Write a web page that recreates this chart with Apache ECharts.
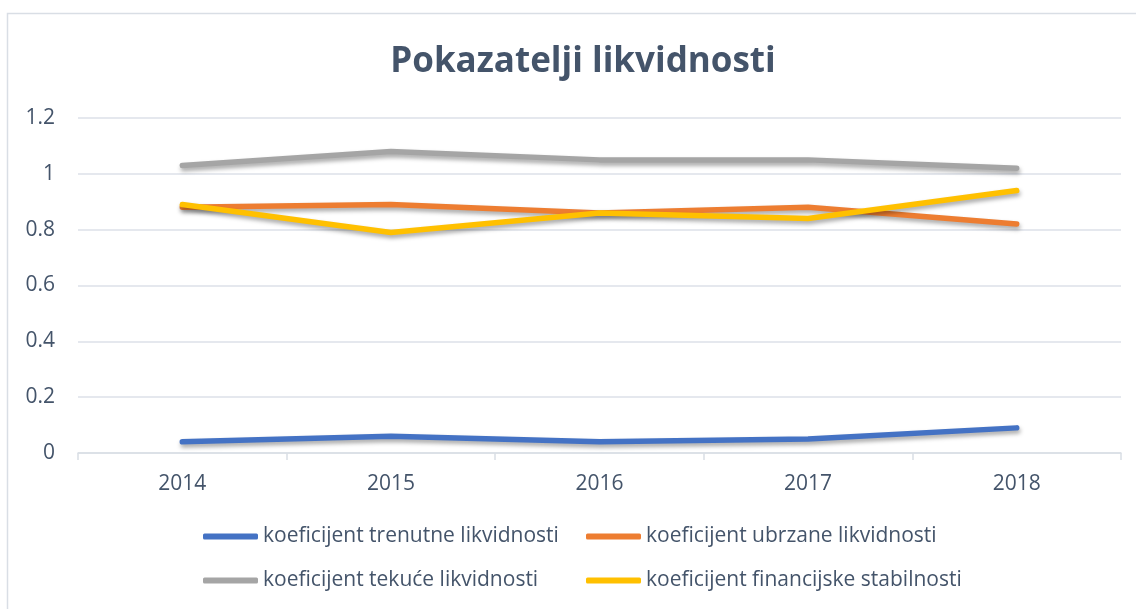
<!DOCTYPE html>
<html>
<head>
<meta charset="utf-8">
<script src="https://cdn.jsdelivr.net/npm/echarts@6/dist/echarts.min.js"></script>
<style>
html,body{margin:0;padding:0;background:#fff;}
#main{width:1136px;height:609px;}
</style>
</head>
<body>
<div id="main"></div>
<script>
const titleText = 'Pokazatelji likvidnosti';
const years = ['2014', '2015', '2016', '2017', '2018'];
const trenutne = [0.04, 0.06, 0.04, 0.05, 0.09];
const ubrzane = [0.88, 0.89, 0.86, 0.88, 0.82];
const tekuce = [1.03, 1.08, 1.05, 1.05, 1.02];
const financijske = [0.89, 0.79, 0.86, 0.84, 0.94];
const seriesNames = [
  'koeficijent trenutne likvidnosti',
  'koeficijent ubrzane likvidnosti',
  'koeficijent tekuće likvidnosti',
  'koeficijent financijske stabilnosti'
];
const yTicks = [0, 0.2, 0.4, 0.6, 0.8, 1, 1.2];

const colors = ['#4472C4', '#ED7D31', '#A5A5A5', '#FFC000'];
const values = [trenutne, ubrzane, tekuce, financijske];
const textColor = '#44546A';
const font = '"Open Sans", sans-serif';

const chart = echarts.init(document.getElementById('main'));

const legendPos = [
  {left: 203, top: 526},
  {left: 586, top: 526},
  {left: 203, top: 570},
  {left: 586, top: 570}
];

const option = {
  backgroundColor: '#ffffff',
  animation: false,
  title: {
    text: titleText,
    left: 578,
    textAlign: 'center',
    top: 40,
    textStyle: {color: textColor, fontFamily: font, fontWeight: 'bold', fontSize: 35}
  },
  graphic: [{
    type: 'rect',
    shape: {x: 7.5, y: 13.5, width: 1140, height: 700},
    style: {fill: 'none', stroke: '#D9DEE5', lineWidth: 1.5},
    silent: true
  }],
  legend: seriesNames.map((n, i) => ({
    data: [n],
    left: legendPos[i].left,
    top: legendPos[i].top,
    icon: 'roundRect',
    itemWidth: 55,
    itemHeight: 6,
    itemGap: 4,
    padding: 0,
    textStyle: {color: textColor, fontFamily: font, fontSize: 21, padding: [0, 0, 0, 0]}
  })),
  grid: {left: 78, right: 15, top: 118, bottom: 156, containLabel: false},
  xAxis: {
    type: 'category',
    data: years,
    boundaryGap: true,
    axisLine: {lineStyle: {color: '#D9DEE5', width: 1.5}},
    axisTick: {show: true, length: 7, lineStyle: {color: '#D9DEE5', width: 1.5}},
    axisLabel: {color: textColor, fontFamily: font, fontSize: 21, margin: 21}
  },
  yAxis: {
    type: 'value',
    min: 0,
    max: 1.2,
    interval: 0.2,
    axisLine: {show: false},
    axisTick: {show: false},
    splitLine: {lineStyle: {color: '#DCE1E8', width: 1.5}},
    axisLabel: {
      color: textColor, fontFamily: font, fontSize: 21, margin: 23,
      formatter: v => {
        const t = yTicks.find(x => Math.abs(x - v) < 1e-9);
        return t === undefined ? '' : String(t);
      }
    }
  },
  series: seriesNames.map((n, i) => ({
    name: n,
    type: 'line',
    data: values[i],
    symbol: 'none',
    color: colors[i],
    lineStyle: {
      width: 5.5, color: colors[i], cap: 'round', join: 'round',
      shadowColor: 'rgba(0,0,0,0.35)', shadowBlur: 4, shadowOffsetX: 1, shadowOffsetY: 3
    }
  }))
};
chart.setOption(option);
</script>
</body>
</html>
